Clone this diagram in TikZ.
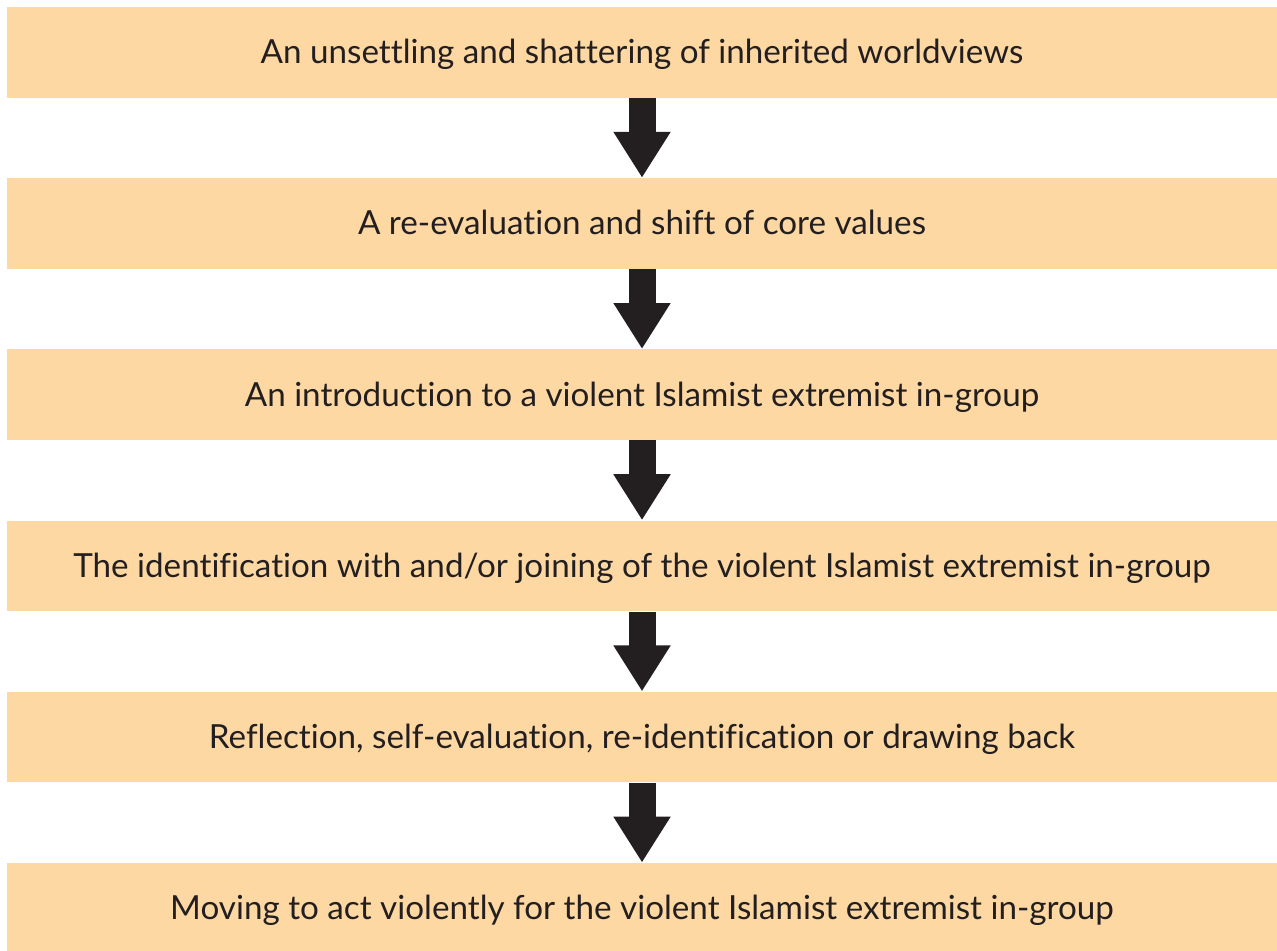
\documentclass[tikz,border=0pt]{standalone}
\usepackage{fontspec}
\setmainfont{Lato}[Ligatures=NoCommon]
\usetikzlibrary{arrows.meta}
\definecolor{boxfill}{HTML}{FDD8A3}
\definecolor{ink}{HTML}{231F20}
\tikzset{
  stage/.style={fill=boxfill,minimum width=635pt,minimum height=45.25pt,inner sep=0pt,
    text=ink,font=\fontsize{16.6}{19}\selectfont,text height=11.5pt,text depth=0pt},
  flow/.style={draw=ink,line width=13.5pt,-{Triangle[width=27pt,length=23pt]}}
}
\begin{document}
\begin{tikzpicture}[x=0.5pt,y=-0.5pt]
\useasboundingbox (0,0) rectangle (1277,950);
\node (s1) at (642,52.25) [stage] {An unsettling and shattering of inherited worldviews};
\node (s2) at (642,223.45) [stage] {A re-evaluation and shift of core values};
\node (s3) at (642,394.65) [stage] {An introduction to a violent Islamist extremist in-group};
\node (s4) at (642,565.85) [stage] {The identification with and/or joining of the violent Islamist extremist in-group};
\node (s5) at (642,737.05) [stage] {Reflection, self-evaluation, re-identification or drawing back};
\node (s6) at (642,908.25) [stage] {Moving to act violently for the violent Islamist extremist in-group};
\draw[flow] (s1.south) -- (s2.north);
\draw[flow] (s2.south) -- (s3.north);
\draw[flow] (s3.south) -- (s4.north);
\draw[flow] (s4.south) -- (s5.north);
\draw[flow] (s5.south) -- (s6.north);
\end{tikzpicture}
\end{document}
